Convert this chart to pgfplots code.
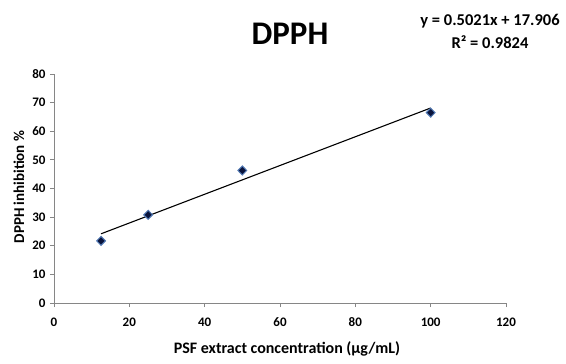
\documentclass[border=0pt]{standalone}
\usepackage{pgfplots}
\pgfplotsset{compat=1.18}
\usepackage{fontspec}
\setmainfont{Carlito}
\definecolor{axgray}{RGB}{134,134,134}
\definecolor{ptnavy}{RGB}{10,20,60}
\definecolor{ptblue}{RGB}{80,120,180}
\begin{document}
\begin{tikzpicture}
\begin{axis}[
  at={(0,0)}, anchor=south west,
  scale only axis, width=452bp, height=229bp,
  xmin=0, xmax=120, ymin=0, ymax=80,
  xtick={0,20,...,120}, ytick={0,10,...,80},
  axis x line*=bottom, axis y line*=left,
  axis line style={axgray, line width=0.8bp, -},
  tick style={axgray, line width=0.8bp},
  tick align=outside, major tick length=4bp,
  every tick label/.append style={font=\fontsize{13bp}{15bp}\selectfont\bfseries, text=black},
  xticklabel style={yshift=-7bp},
  yticklabel style={xshift=-1bp},
  /pgf/number format/assume math mode=true,
  clip=false,
]
\addplot[only marks, mark=diamond*, mark size=4.5bp, mark options={fill=ptnavy, draw=ptblue, line width=1bp, xscale=1.3}]
  coordinates {(12.5,21.7) (25,30.8) (50,46.3) (100,66.5)};
\addplot[black, line width=1.1bp, no marks] coordinates {(12.5,24.18) (100,68.12)};
\end{axis}
\node[font=\fontsize{33bp}{36bp}\selectfont\bfseries] at (236bp,269bp) {DPPH};
\node[font=\fontsize{16.5bp}{23bp}\selectfont\bfseries, align=center] at (436bp,272bp) {y = 0.5021x + 17.906\\R² = 0.9824};
\node[font=\fontsize{15bp}{17bp}\selectfont\bfseries, rotate=90] at (-35bp,116bp) {DPPH inhibition \%};
\node[font=\fontsize{16bp}{18bp}\selectfont\bfseries] at (233bp,-46bp) {PSF extract concentration (µg/mL)};
\pgfresetboundingbox
\path[use as bounding box] (-54bp,-61bp) rectangle (512bp,303bp);
\end{tikzpicture}
\end{document}
